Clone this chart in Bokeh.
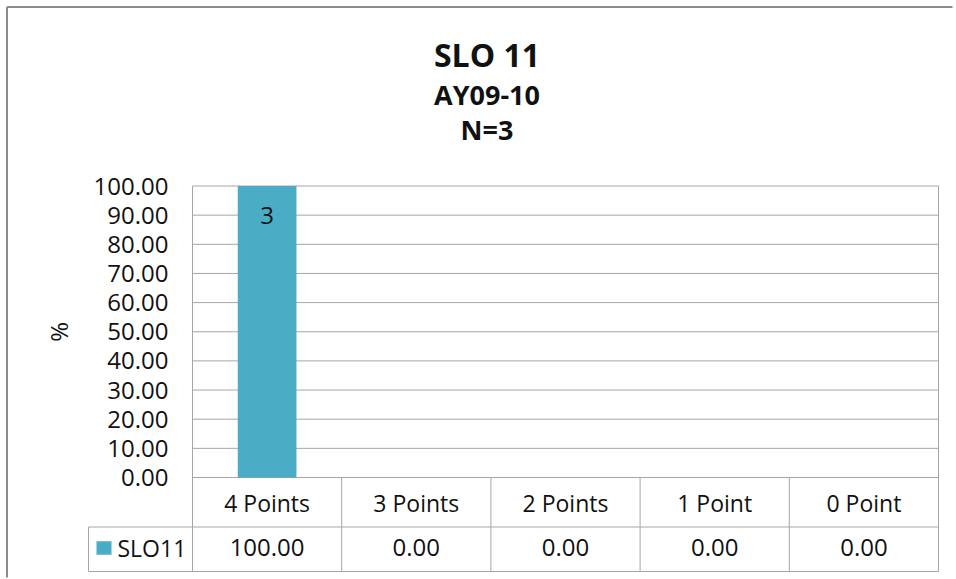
import math
from bokeh.plotting import figure
from bokeh.models import Range1d, FixedTicker, NumeralTickFormatter
from bokeh.core.properties import value
from bokeh.embed import file_html
from bokeh.resources import INLINE

# ---- data ----
title_lines = ["SLO 11", "AY09-10", "N=3"]
categories = ["4 Points", "3 Points", "2 Points", "1 Point", "0 Point"]
series_name = "SLO11"
percent = [100.0, 0.0, 0.0, 0.0, 0.0]
counts = [3, 0, 0, 0, 0]
y_ticks = [0, 10, 20, 30, 40, 50, 60, 70, 80, 90, 100]
y_label = "%"

# ---- styles / layout constants ----
FONT = "Open Sans"
BAR = "#4BACC6"
LINE = "#a6a6a6"
FRAME = "#8c8c8c"
TXT = "#111111"
PXU = 149.2    # pixels per category column
PXY = 2.915    # pixels per percent
X0 = 192       # pixel of category axis start
Y0 = 477       # pixel of 0 %

def px_x(px):
    return (px - X0) / PXU

def px_y(py):
    return (Y0 - py) / PXY

n = len(categories)
xs = [i + 0.5 for i in range(n)]
ymax = max(y_ticks)

W, H = 956, 579
p = figure(width=W, height=H, output_backend="svg", toolbar_location=None,
           x_range=Range1d(px_x(4), px_x(W - 4)),
           y_range=Range1d(px_y(H - 2), px_y(4)),
           x_axis_location=None,
           min_border_left=4, min_border_right=4,
           min_border_top=4, min_border_bottom=2)
p.outline_line_color = None
p.background_fill_color = "white"
p.border_fill_color = "white"
for g in p.grid:
    g.visible = False

# outer chart border (top and left visible)
p.segment(x0=[px_x(6.5), px_x(6.5)], x1=[px_x(6.5), px_x(W)],
          y0=[px_y(6.5), px_y(6.5)], y1=[px_y(H), px_y(6.5)],
          line_color=FRAME, line_width=2)

# grid lines
p.segment(x0=[0] * len(y_ticks), x1=[n] * len(y_ticks), y0=y_ticks, y1=y_ticks,
          line_color=LINE, line_width=1)

# table geometry
LEG = px_x(88)
ROW = px_y(526.5)
BOT = px_y(571)
# vertical lines: plot-area sides continue into table
p.segment(x0=[0, n], x1=[0, n], y0=[BOT, BOT], y1=[ymax, ymax],
          line_color=LINE, line_width=1)
inner = list(range(1, n))
p.segment(x0=inner, x1=inner, y0=[BOT] * len(inner), y1=[0] * len(inner),
          line_color=LINE, line_width=1)
p.segment(x0=[LEG], x1=[LEG], y0=[ROW], y1=[BOT], line_color=LINE, line_width=1)
# horizontal table lines
p.segment(x0=[LEG, LEG], x1=[n, n], y0=[ROW, BOT], y1=[ROW, BOT],
          line_color=LINE, line_width=1)

# bars
p.vbar(x=xs, top=percent, bottom=0, width=58.7 / PXU,
       fill_color=BAR, line_color=None)

# data labels (counts) inside bars
lx = [xs[i] for i in range(n) if counts[i] > 0]
ly = [percent[i] - 29 / PXY for i in range(n) if counts[i] > 0]
lt = [str(counts[i]) for i in range(n) if counts[i] > 0]
p.text(x=lx, y=ly, text=lt, text_font=value(FONT), text_font_size="24px",
       text_align="center", text_baseline="middle", text_color=TXT)

# titles
tx = px_x(486.5)
p.text(x=[tx] * 3, y=[px_y(54), px_y(93.5), px_y(128.5)],
       text=title_lines, text_font=value(FONT),
       text_font_size=["32px", "27px", "27px"], text_font_style="bold",
       text_align="center", text_baseline="middle", text_color=TXT)

# y axis title
p.text(x=[px_x(58)], y=[ymax / 2], text=[y_label], text_font=value(FONT),
       text_font_size="24px", angle=math.pi / 2,
       text_align="center", text_baseline="middle", text_color=TXT)

# y axis (labels pulled inside the canvas)
ax = p.yaxis[0]
ax.ticker = FixedTicker(ticks=y_ticks)
ax.formatter = NumeralTickFormatter(format="0.00")
ax.bounds = (0, ymax)
ax.axis_line_color = None
ax.major_tick_line_color = None
ax.minor_tick_line_color = None
ax.major_tick_out = 0
ax.major_tick_in = 0
ax.major_label_standoff = 4 - 168
ax.major_label_text_font = FONT
ax.major_label_text_font_size = "24px"
ax.major_label_text_color = TXT

# data table: header row and value row
p.text(x=xs, y=[px_y(502)] * n, text=categories, text_font=value(FONT),
       text_font_size="23px", text_align="center", text_baseline="middle",
       text_color=TXT)
p.text(x=xs, y=[px_y(547)] * n, text=[f"{v:.2f}" for v in percent],
       text_font=value(FONT), text_font_size="24px", text_align="center",
       text_baseline="middle", text_color=TXT)
# legend key in the table
p.quad(left=[px_x(96)], right=[px_x(111)], top=[px_y(540.7)], bottom=[px_y(554.3)],
       fill_color=BAR, line_color=None)
p.text(x=[px_x(117)], y=[px_y(547)], text=[series_name], text_font=value(FONT),
       text_font_size="23px", text_align="left", text_baseline="middle",
       text_color=TXT)

open("out.html", "w").write(file_html(p, INLINE))
